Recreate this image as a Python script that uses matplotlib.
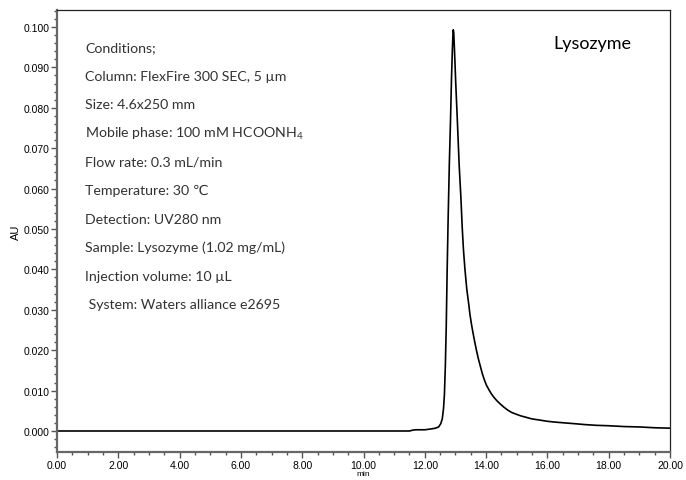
import numpy as np
import matplotlib
matplotlib.use('Agg')
import matplotlib.pyplot as plt
from matplotlib.ticker import MultipleLocator, FormatStrFormatter

plt.rcParams['mathtext.default'] = 'regular'

# chromatogram (time in min, absorbance in AU)
time_min = [0.0, 2.0, 4.0, 6.0, 8.0, 10.0, 11.5, 11.6, 11.7, 12.0, 12.2, 12.35,
            12.45, 12.52, 12.57, 12.61, 12.64, 12.67, 12.70, 12.73, 12.76, 12.80,
            12.84, 12.87, 12.90, 12.92, 12.93, 12.945, 12.97, 13.01, 13.06, 13.12,
            13.18, 13.22, 13.26, 13.31, 13.37, 13.44, 13.47, 13.53, 13.58, 13.63,
            13.69, 13.75, 13.82, 13.88, 13.95, 14.02, 14.10, 14.18, 14.26, 14.35,
            14.46, 14.58, 14.70, 14.83, 15.0, 15.15, 15.3, 15.49, 15.75, 16.0,
            16.25, 16.57, 16.9, 17.2, 17.6, 18.0, 18.5, 19.0, 19.5, 20.0]
absorbance = [0.0, 0.0, 0.0, 0.0, 0.0, 0.0, 0.0, 0.0002, 0.0003, 0.0003, 0.0005, 0.0007,
              0.0010, 0.0018, 0.0030, 0.0055, 0.0090, 0.0160, 0.0260, 0.0400, 0.0520, 0.0660,
              0.0772, 0.0870, 0.0945, 0.0985, 0.0993, 0.0985, 0.0940, 0.0860, 0.0772, 0.0660,
              0.0574, 0.0505, 0.0450, 0.0400, 0.0351, 0.0310, 0.0290, 0.0261, 0.0240, 0.0220,
              0.0198, 0.0178, 0.0158, 0.0141, 0.0125, 0.0112, 0.0101, 0.0091, 0.0083, 0.0075,
              0.0067, 0.0059, 0.0052, 0.0046, 0.0041, 0.0037, 0.0034, 0.0030, 0.0027, 0.0024,
              0.0022, 0.0020, 0.0018, 0.0016, 0.0014, 0.0013, 0.0011, 0.0010, 0.0008, 0.0007]

conditions = [
    'Conditions;',
    'Column: FlexFire 300 SEC, 5 µm',
    'Size: 4.6x250 mm',
    'Mobile phase: 100 mM HCOONH$_4$',
    'Flow rate: 0.3 mL/min',
    'Temperature: 30 ℃',
    'Detection: UV280 nm',
    'Sample: Lysozyme (1.02 mg/mL)',
    'Injection volume: 10 µL',
    ' System: Waters alliance e2695',
]
sample_name = 'Lysozyme'

fig = plt.figure(figsize=(6.86, 4.81), dpi=100)
ax = fig.add_axes([57 / 686, 1 - 453 / 481, (670 - 57) / 686, (453 - 11) / 481])

ax.plot(time_min, absorbance, color='black', lw=1.2)

ax.set_xlim(0, 20)
ax.set_ylim(-0.0052, 0.1042)
ax.xaxis.set_major_locator(MultipleLocator(2))
ax.xaxis.set_minor_locator(MultipleLocator(0.5))
ax.yaxis.set_major_locator(MultipleLocator(0.01))
ax.yaxis.set_minor_locator(MultipleLocator(0.002))
ax.xaxis.set_major_formatter(FormatStrFormatter('%.2f'))
ax.yaxis.set_major_formatter(FormatStrFormatter('%.3f'))

tick_family = ['Liberation Sans', 'DejaVu Sans']
for lab in ax.get_xticklabels() + ax.get_yticklabels():
    lab.set_fontfamily(tick_family)
    lab.set_fontsize(7.5)

ax.tick_params(which='major', length=4, width=1, color='#555555', pad=1.5)
ax.tick_params(which='minor', length=2.5, width=1, color='#555555')
ax.tick_params(axis='x', which='major', length=4, pad=2)

for side in ['left', 'bottom']:
    ax.spines[side].set_color('#666666')
    ax.spines[side].set_linewidth(1.6)
for side in ['top', 'right']:
    ax.spines[side].set_color('#222222')
    ax.spines[side].set_linewidth(0.9)

ax.set_xlabel('min', fontsize=6, family=tick_family, labelpad=0)
ax.set_ylabel('AU', fontsize=8, family=tick_family, labelpad=2)

text_family = ['Lato', 'DejaVu Sans']
for i, line in enumerate(conditions):
    fig.text(85 / 686, 1 - (48 + i * 28.6) / 481, line, fontsize=10.2,
             family=text_family, color='#333333', va='center', ha='left')

fig.text(553 / 686, 1 - 44 / 481, sample_name, fontsize=13,
         family=text_family, color='black', va='center', ha='left')

fig.savefig('out.png', dpi=100)
